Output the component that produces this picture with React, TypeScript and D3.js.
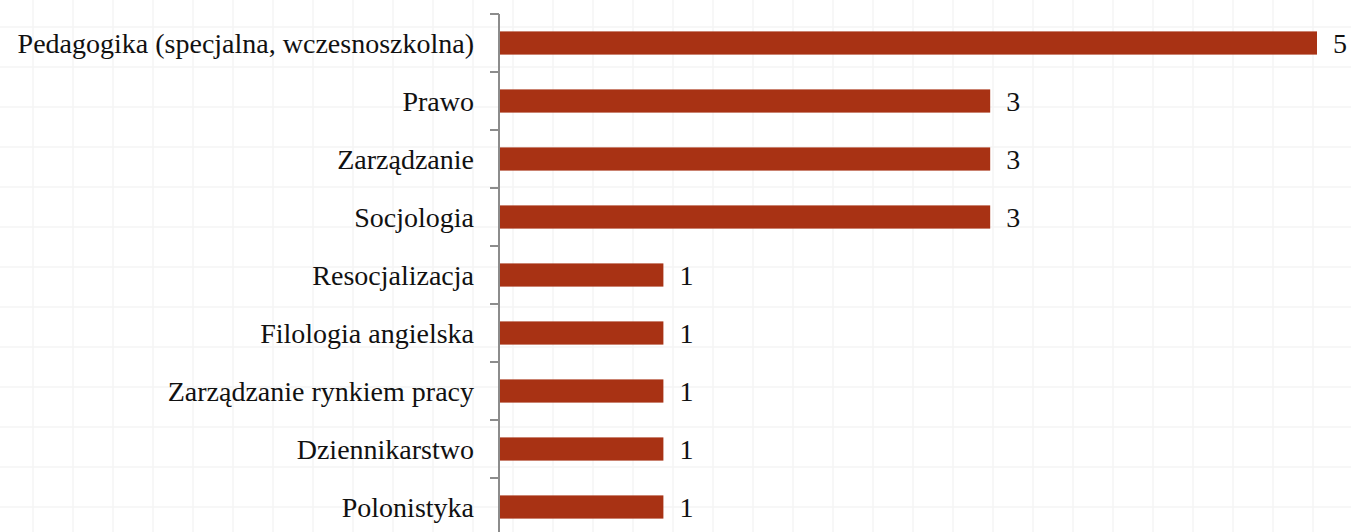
import React from "react";
import * as d3 from "d3";

const categories = [
  "Pedagogika (specjalna, wczesnoszkolna)",
  "Prawo",
  "Zarządzanie",
  "Socjologia",
  "Resocjalizacja",
  "Filologia angielska",
  "Zarządzanie rynkiem pracy",
  "Dziennikarstwo",
  "Polonistyka",
];
const values = [5, 3, 3, 3, 1, 1, 1, 1, 1];

const W = 1351;
const H = 532;

export default function App() {
  const x = d3.scaleLinear().domain([0, 5]).range([500, 1317]);
  const y = d3.scaleBand<string>().domain(categories).range([14, 536]).paddingInner(0.6).paddingOuter(0.3);
  const band = d3.scaleBand<string>().domain(categories).range([14, 536]);
  const gridX = d3.range(33, W, 40);
  const gridY = d3.range(27, H, 40);
  const font = "'Liberation Serif', serif";
  return (
    <div style={{ position: "absolute", left: 0, top: 0 }}>
      <svg width={W} height={H} style={{ display: "block" }}>
        <rect width={W} height={H} fill="#fff" />
        {gridX.map((gx) => (
          <line key={"gx" + gx} x1={gx} x2={gx} y1={0} y2={H} stroke="#f5f5f5" strokeWidth={1.5} />
        ))}
        {gridY.map((gy) => (
          <line key={"gy" + gy} x1={0} x2={W} y1={gy} y2={gy} stroke="#f5f5f5" strokeWidth={1.5} />
        ))}
        {categories.map((c, i) => {
          const by = y(c)!;
          const bh = y.bandwidth();
          const cy = band(c)! + band.bandwidth() / 2;
          return (
            <g key={c}>
              <rect x={x(0)} y={by} width={x(values[i]) - x(0)} height={bh} fill="#a83214" />
              <text x={x(values[i]) + 16} y={cy} dy="0.35em" fontFamily={font} fontSize={28} fill="#111">
                {values[i]}
              </text>
              <text x={474} y={cy} dy="0.35em" textAnchor="end" fontFamily={font} fontSize={28} fill="#111">
                {c}
              </text>
            </g>
          );
        })}
        <line x1={499} x2={499} y1={14} y2={H} stroke="#8c8c8c" strokeWidth={2} />
        {categories.map((c) => (
          <line key={"t" + c} x1={490} x2={499} y1={band(c)!} y2={band(c)!} stroke="#8c8c8c" strokeWidth={2} />
        ))}
      </svg>
    </div>
  );
}
